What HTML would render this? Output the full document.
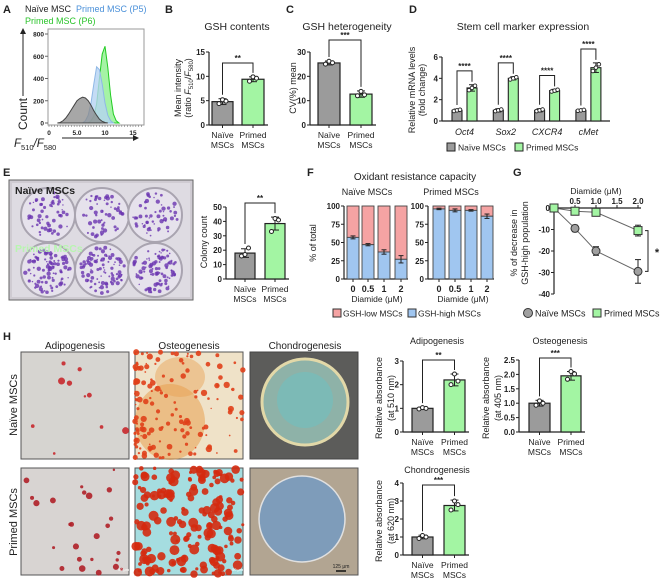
<!DOCTYPE html>
<html><head><meta charset="utf-8">
<style>
html,body{margin:0;padding:0;background:#fff;}
svg{display:block;font-family:"Liberation Sans",Arial,sans-serif;}
text{fill:#222;}
</style></head>
<body>
<svg id="fig" width="660" height="579" viewBox="0 0 660 579" xmlns="http://www.w3.org/2000/svg">
<rect x="0" y="0" width="660" height="579" fill="#fff"/>
</svg>
<script>
// ---------- data ----------
const aGrayStart = 1.5;
const aGrayCounts = [0,5,20,45,80,120,160,200,220,232,225,200,160,110,70,35,15,5,0];
const aBlueStart = 6;
const aBlueCounts = [0,20,70,180,350,505,480,350,180,70,20,0];
const aGreenStart = 7;
const aGreenCounts = [0,20,60,170,400,620,690,500,250,80,20,0];
const aYTicks = [0,200,400,600,800];
const aXTicks = [0,5,10,15];
const aXTickLabels = ['0','5.0','10','15'];
const bValues = [4.8, 9.4];
const bErr = [0.6, 0.5];
const bPts = [[4.4,5.2,4.9],[9.0,9.9,9.6]];
const bTicks = [0,5,10,15];
const cValues = [25.5, 12.7];
const cErr = [0.8, 1.3];
const cPts = [[25.0,26.2,25.6],[12.0,13.8,12.4]];
const cTicks = [0,10,20,30];
const dGenes = ['Oct4','Sox2','CXCR4','cMet'];
const dNaive = [1.0, 1.0, 1.0, 1.0];
const dNaiveErr = [0.12, 0.15, 0.15, 0.08];
const dPrimed = [3.1, 4.0, 2.85, 5.0];
const dPrimedErr = [0.3, 0.15, 0.12, 0.45];
const dTicks = [0,2,4,6];
const eValues = [18, 38.5];
const eErr = [3, 4.5];
const ePts = [[16,17,21.5],[33,42,41]];
const eTicks = [0,10,20,30,40,50];
const fDoses = ['0','0.5','1','2'];
const fNaiveHigh = [57, 47, 37, 27];
const fNaiveErr = [2, 1.5, 3, 5];
const fPrimedHigh = [96, 94, 94, 86];
const fPrimedErr = [1, 2, 1, 3];
const fTicks = [0,25,50,75,100];
const gDoses = [0, 0.5, 1.0, 2.0];
const gNaive = [0, -9.5, -20, -29.5];
const gNaiveErr = [0, 1.5, 2, 5.5];
const gPrimed = [0, -1.5, -2, -10.5];
const gPrimedErr = [0, 0.5, 0.8, 2.5];
const gYTicks = [0,-10,-20,-30,-40];
const gXTicks = [0.5,1.0,1.5,2.0];
const hAdipo = [1.0, 2.2];
const hAdipoErr = [0.05, 0.25];
const hAdipoPts = [[0.97,1.03,1.0],[2.0,2.45,2.15]];
const hOsteo = [1.0, 1.95];
const hOsteoErr = [0.1, 0.15];
const hOsteoPts = [[0.93,1.08,1.0],[1.83,2.1,2.02]];
const hChondro = [1.0, 2.75];
const hChondroErr = [0.1, 0.3];
const hChondroPts = [[0.92,1.08,1.0],[2.5,3.0,2.8]];

// ---------- helpers ----------
const svg = document.getElementById('fig');
const NS = 'http://www.w3.org/2000/svg';
function mk(tag, attrs, parent){const e=document.createElementNS(NS,tag);for(const k in attrs)e.setAttribute(k,attrs[k]);(parent||svg).appendChild(e);return e;}
function txt(x,y,s,attrs,parent){const t=mk('text',Object.assign({x:x,y:y},attrs||{}),parent);t.textContent=s;return t;}
function grp(name){const g=mk('g',{});return g;}
const NAIVE='#9b9b9b', PRIMED='#a3f5a3';
let seed=12345;
function rnd(){seed=(seed*1103515245+12345)%2147483648;return seed/2147483648;}

function yAxis(g, ax, y0, ys, ticks, dec, fs){
  mk('line',{x1:ax,y1:y0,x2:ax,y2:ys(ticks[ticks.length-1]),stroke:'#222','stroke-width':1.2},g);
  ticks.forEach(t=>{
    const y=ys(t);
    mk('line',{x1:ax-3,y1:y,x2:ax,y2:y,stroke:'#222','stroke-width':1},g);
    const lb=txt(ax-4,y+3,t.toFixed(dec),{'font-size':fs||8,'font-weight':'bold','text-anchor':'end'},g);
    
    
  });
}
function errBar(g,cx,yA,yB,w){
  mk('line',{x1:cx,y1:yA,x2:cx,y2:yB,stroke:'#222','stroke-width':1},g);
  mk('line',{x1:cx-w,y1:yA,x2:cx+w,y2:yA,stroke:'#222','stroke-width':1},g);
  mk('line',{x1:cx-w,y1:yB,x2:cx+w,y2:yB,stroke:'#222','stroke-width':1},g);
}
function vtitle(g,x,y,s,fs){return txt(x,y,s,{'font-size':fs||9,'text-anchor':'middle',transform:'rotate(-90 '+x+' '+y+')'},g);}

function barPair(name, ax, y0, y1, vmax, ticks, dec, bx, vals, errs, pts, bracketTop, stars, xEnd){
  const g=grp(name);
  const ys=v=>y0-(v/vmax)*(y0-y1);
  yAxis(g,ax,y0,ys,ticks,dec);
  mk('line',{x1:ax,y1:y0,x2:xEnd,y2:y0,stroke:'#222','stroke-width':1.2},g);
  const labs=[['Naïve','MSCs'],['Primed','MSCs']];
  vals.forEach((v,i)=>{
    const [x0,x1]=bx[i];const cx=(x0+x1)/2;
    const r=mk('rect',{x:x0,y:ys(v),width:x1-x0,height:y0-ys(v),fill:i?PRIMED:NAIVE,stroke:'#222','stroke-width':1.2},g);
    
    
    errBar(g,cx,ys(v-errs[i]),ys(v+errs[i]),4);
    pts[i].forEach((p,j)=>{mk('circle',{cx:cx+(j-1)*3.5,cy:ys(p),r:2,fill:'#fff',stroke:'#222','stroke-width':1},g);});
    mk('line',{x1:cx,y1:y0,x2:cx,y2:y0+3,stroke:'#222'},g);
    txt(cx,y0+13,labs[i][0],{'font-size':8.5,'text-anchor':'middle'},g);
    txt(cx,y0+23,labs[i][1],{'font-size':8.5,'text-anchor':'middle'},g);
  });
  const c0=(bx[0][0]+bx[0][1])/2, c1=(bx[1][0]+bx[1][1])/2;
  const top0=Math.min(...pts[0].map(ys),ys(vals[0]+errs[0]))-4, top1=Math.min(...pts[1].map(ys),ys(vals[1]+errs[1]))-4;
  const br=mk('path',{d:`M${c0} ${top0} V${bracketTop} H${c1} V${top1}`,fill:'none',stroke:'#222','stroke-width':1},g);
  
  
  txt((c0+c1)/2,bracketTop-2,stars,{'font-size':8,'font-weight':'bold','text-anchor':'middle'},g);
  return g;
}

// ---------- panel letters ----------
[['A',3,13],['B',165,13],['C',286,13],['D',409,13],['E',3,176],['F',307,176],['G',513,176],['H',3,340]].forEach(([l,x,y])=>{
  const t=txt(x,y,l,{'font-size':11,'font-weight':'bold'});
  
  
});

// ---------- A ----------
(function(){
  const g=grp('panel-a-histogram');
  txt(25,12,'Naïve MSC',{'font-size':9},g);
  const t2=txt(76,12,'Primed MSC (P5)',{'font-size':9},g);
  t2.style.fill='#4a90d9';
  const t3=txt(25,24,'Primed MSC (P6)',{'font-size':9},g);
  t3.style.fill='#2bc42b';
  mk('rect',{x:48,y:29,width:96,height:96,fill:'#fff',stroke:'#999','stroke-width':1},g);
  const xs=v=>49+v*5.6, ys=c=>123-c*(89/800);
  function hist(start,counts,fill,stroke,op,name){
    let d=`M${xs(start)} ${ys(0)}`;
    counts.forEach((c,i)=>{d+=` L${xs(start+i*0.5)} ${ys(c)}`;});
    d+=` L${xs(start+(counts.length-1)*0.5)} ${ys(0)} Z`;
    const p=mk('path',{d:d,fill:fill,'fill-opacity':op,stroke:stroke,'stroke-width':1},g);
    
    
  }
  hist(aGreenStart,aGreenCounts,'#8ef08e','#22cc22',0.8,'histogram-primed-p6');
  hist(aBlueStart,aBlueCounts,'#b5d3f3','#8fb8e6',0.8,'histogram-primed-p5');
  hist(aGrayStart,aGrayCounts,'#8a8a8a','#444',0.75,'histogram-naive');
  aYTicks.forEach(t=>{mk('line',{x1:45,y1:ys(t),x2:48,y2:ys(t),stroke:'#666'},g);txt(44,ys(t)+2.5,String(t),{'font-size':6.5,'font-weight':'bold','text-anchor':'end'},g);});
  for(let v=0;v<=16.5;v+=0.5){mk('line',{x1:xs(v),y1:125,x2:xs(v),y2:127,stroke:'#777','stroke-width':0.6},g);}
  aXTicks.forEach((t,i)=>{txt(xs(t),135,aXTickLabels[i],{'font-size':6.5,'font-weight':'bold','text-anchor':'middle'},g);});
  mk('line',{x1:23,y1:96,x2:23,y2:33,stroke:'#222','stroke-width':1},g);
  mk('path',{d:'M20 34 L23 28 L26 34 Z',fill:'#222'},g);
  vtitle(g,27,114,'Count',12);
  const f=txt(14,147,'',{'font-size':11.5,'font-style':'italic'},g);
  f.innerHTML='<tspan>F</tspan><tspan font-size="7.5" dy="3" font-style="normal">510</tspan><tspan dy="-3">/F</tspan><tspan font-size="7.5" dy="3" font-style="normal">580</tspan>';
  mk('line',{x1:62,y1:138,x2:134,y2:138,stroke:'#222','stroke-width':1},g);
  mk('path',{d:'M133 135 L139 138 L133 141 Z',fill:'#222'},g);
})();

// ---------- B ----------
(function(){
  const g=barPair('panel-b-gsh-contents',209,125,52,15,bTicks,0,[[212,233],[242,264]],bValues,bErr,bPts,63,'**',268);
  txt(237,30,'GSH contents',{'font-size':10.5,'text-anchor':'middle'},g);
  vtitle(g,181,88,'Mean intensity',9);
  const t=vtitle(g,191,88,'',9);
  t.innerHTML='(ratio <tspan font-style="italic">F</tspan><tspan font-size="6" dy="2">510</tspan><tspan dy="-2">/</tspan><tspan font-style="italic">F</tspan><tspan font-size="6" dy="2">580</tspan><tspan dy="-2">)</tspan>';
})();

// ---------- C ----------
(function(){
  const g=barPair('panel-c-gsh-heterogeneity',310,125,52,30,cTicks,0,[[318,340],[350,372]],cValues,cErr,cPts,40,'***',376);
  txt(347,30,'GSH heterogeneity',{'font-size':10.5,'text-anchor':'middle'},g);
  vtitle(g,296,88,'CV(%) mean',9);
})();

// ---------- D ----------
(function(){
  const g=grp('panel-d-stem-markers');
  const ax=442,y0=121,y1=57,vmax=6;
  const ys=v=>y0-(v/vmax)*(y0-y1);
  yAxis(g,ax,y0,ys,dTicks,0);
  mk('line',{x1:ax,y1:y0,x2:610,y2:y0,stroke:'#222','stroke-width':1.2},g);
  txt(523,30,'Stem cell marker expression',{'font-size':10.5,'text-anchor':'middle'},g);
  vtitle(g,415,90,'Relative mRNA levels',9);
  vtitle(g,425,90,'(fold change)',9);
  const gx0=452, gstep=41.3, bw=10, gap=15;
  dGenes.forEach((gene,i)=>{
    const xn=gx0+i*gstep, xp=xn+gap;
    const rn=mk('rect',{x:xn,y:ys(dNaive[i]),width:bw,height:y0-ys(dNaive[i]),fill:NAIVE,stroke:'#222','stroke-width':1.1},g);
    
    
    const rp=mk('rect',{x:xp,y:ys(dPrimed[i]),width:bw,height:y0-ys(dPrimed[i]),fill:PRIMED,stroke:'#222','stroke-width':1.1},g);
    
    
    errBar(g,xn+bw/2,ys(dNaive[i]-dNaiveErr[i]),ys(dNaive[i]+dNaiveErr[i]),3);
    errBar(g,xp+bw/2,ys(dPrimed[i]-dPrimedErr[i]),ys(dPrimed[i]+dPrimedErr[i]),3);
    [-1,0,1].forEach(k=>{
      mk('circle',{cx:xn+bw/2+k*3,cy:ys(dNaive[i]+k*dNaiveErr[i]*0.5),r:1.8,fill:'#fff',stroke:'#222','stroke-width':0.9},g);
      mk('circle',{cx:xp+bw/2+k*3,cy:ys(dPrimed[i]+k*dPrimedErr[i]*0.7),r:1.8,fill:'#fff',stroke:'#222','stroke-width':0.9},g);
    });
    const top=ys(dPrimed[i]+dPrimedErr[i]+1.3);
    mk('path',{d:`M${xn+bw/2} ${ys(dNaive[i]+dNaiveErr[i])-4} V${top} H${xp+bw/2} V${ys(dPrimed[i]+dPrimedErr[i])-3}`,fill:'none',stroke:'#222','stroke-width':1},g);
    txt(xn+bw/2+gap/2,top-2,'****',{'font-size':8,'font-weight':'bold','text-anchor':'middle'},g);
    txt(xn+bw/2+gap/2,135,gene,{'font-size':9,'font-style':'italic','text-anchor':'middle'},g);
  });
  const l1=mk('rect',{x:447,y:143,width:8,height:8,fill:NAIVE,stroke:'#222'},g);
  
  
  txt(458,150.5,'Naïve MSCs',{'font-size':8.5},g);
  const l2=mk('rect',{x:515,y:143,width:8,height:8,fill:PRIMED,stroke:'#222'},g);
  
  
  txt(526,150.5,'Primed MSCs',{'font-size':8.5},g);
})();

// ---------- E plate ----------
(function(){
  const g=grp('panel-e-plate-photo');
  mk('rect',{x:9,y:180,width:184,height:120,fill:'#cfcbd2',stroke:'#666','stroke-width':1},g);
  mk('rect',{x:12,y:183,width:178,height:114,fill:'#dedbe2'},g);
  const cs=[[48,215],[102,215],[155,215],[48,270],[102,270],[155,270]];
  cs.forEach(([cx,cy],i)=>{
    mk('circle',{cx:cx,cy:cy,r:27,fill:'#e6e2ec',stroke:'#a9a4b0','stroke-width':2},g);
    const n=i<3?55:90;
    for(let k=0;k<n;k++){const a=rnd()*6.283,r=Math.sqrt(rnd())*23;mk('circle',{cx:cx+r*Math.cos(a),cy:cy+r*Math.sin(a),r:0.7+rnd()*1.5,fill:'#6a35b0','fill-opacity':0.8},g);}
  });
  txt(15,194,'Naïve MSCs',{'font-size':10.5,'font-weight':'bold'},g);
  const p=txt(15,252,'Primed MSCs',{'font-size':10.5,'font-weight':'bold'},g);p.style.fill='#b8f5b0';
})();
(function(){
  const g=barPair('panel-e-colony-count',226,279,207,50,eTicks,0,[[235,255],[265,285]],eValues,eErr,ePts,203,'**',289);
  vtitle(g,207,242,'Colony count',9);
})();

// ---------- F ----------
(function(){
  const g=grp('panel-f-oxidant-resistance');
  txt(415,180,'Oxidant resistance capacity',{'font-size':10,'text-anchor':'middle'},g);
  vtitle(g,316,243,'% of total',9);
  function stack(ax,bx,high,err,sub,name){
    const y0=279,y1=206;const ys=v=>y0-(v/100)*(y0-y1);
    const sg=grp(name);g.appendChild(sg);
    txt(ax+23,195,sub,{'font-size':9,'text-anchor':'middle'},sg);
    yAxis(sg,ax,y0,ys,fTicks,0);
    mk('line',{x1:ax,y1:y0,x2:bx[3]+13,y2:y0,stroke:'#222','stroke-width':1.2},sg);
    high.forEach((h,i)=>{
      const x=bx[i];
      const rl=mk('rect',{x:x,y:ys(100),width:12,height:ys(h)-ys(100),fill:'#f5a3a3',stroke:'#444','stroke-width':0.9},sg);
      
      
      const rh=mk('rect',{x:x,y:ys(h),width:12,height:y0-ys(h),fill:'#a0c6f0',stroke:'#444','stroke-width':0.9},sg);
      
      
      errBar(sg,x+6,ys(h-err[i]),ys(h+err[i]),2.5);
      mk('line',{x1:x+6,y1:y0,x2:x+6,y2:y0+3,stroke:'#222'},sg);
      txt(x+6,292,fDoses[i],{'font-size':9,'font-weight':'bold','text-anchor':'middle'},sg);
    });
    txt((bx[0]+bx[3]+12)/2,302,'Diamide (μM)',{'font-size':8.5,'text-anchor':'middle'},sg);
  }
  stack(344,[347,362,378,395],fNaiveHigh,fNaiveErr,'Naïve MSCs','f-naive-chart');
  stack(428,[433,449,465,481],fPrimedHigh,fPrimedErr,'Primed MSCs','f-primed-chart');
  const l1=mk('rect',{x:333,y:309,width:8,height:8,fill:'#f5a3a3',stroke:'#333'},g);
  
  
  txt(343,316.5,'GSH-low MSCs',{'font-size':8.5},g);
  const l2=mk('rect',{x:408,y:309,width:8,height:8,fill:'#a0c6f0',stroke:'#333'},g);
  
  
  txt(418,316.5,'GSH-high MSCs',{'font-size':8.5},g);
})();

// ---------- G ----------
(function(){
  const g=grp('panel-g-decrease');
  const ax=554, ay=208;
  const xs=v=>ax+v*42, ys=v=>ay-v*(86/40);
  txt(596,194,'Diamide (μM)',{'font-size':8.5,'text-anchor':'middle'},g);
  mk('line',{x1:ax,y1:ay,x2:641,y2:ay,stroke:'#222','stroke-width':1.2},g);
  mk('line',{x1:ax,y1:ay,x2:ax,y2:ys(-40),stroke:'#222','stroke-width':1.2},g);
  gXTicks.forEach(t=>{mk('line',{x1:xs(t),y1:ay,x2:xs(t),y2:ay-3,stroke:'#222'},g);txt(xs(t),204,t.toFixed(1),{'font-size':8,'font-weight':'bold','text-anchor':'middle'},g);});
  gYTicks.forEach(t=>{mk('line',{x1:ax-3,y1:ys(t),x2:ax,y2:ys(t),stroke:'#222'},g);txt(ax-4,ys(t)+3,String(t),{'font-size':8,'font-weight':'bold','text-anchor':'end'},g);});
  vtitle(g,517,243,'% of decrease in',9);
  vtitle(g,528,243,'GSH-high population',9);
  function series(vals,errs,color,shape,name){
    const sg=grp(name);g.appendChild(sg);
    mk('polyline',{points:gDoses.map((d,i)=>xs(d)+','+ys(vals[i])).join(' '),fill:'none',stroke:'#666','stroke-width':1},sg);
    gDoses.forEach((d,i)=>{
      if(errs[i]>0) errBar(sg,xs(d),ys(vals[i]-errs[i]),ys(vals[i]+errs[i]),3);
      let m;
      if(shape==='c') m=mk('circle',{cx:xs(d),cy:ys(vals[i]),r:4,fill:color,stroke:'#333','stroke-width':1},sg);
      else m=mk('rect',{x:xs(d)-4,y:ys(vals[i])-4,width:8,height:8,fill:color,stroke:'#333','stroke-width':1},sg);
      
      
    });
  }
  series(gNaive,gNaiveErr,'#a0a0a0','c','g-naive-series');
  series(gPrimed,gPrimedErr,PRIMED,'s','g-primed-series');
  const bx=648, yA=ys(gPrimed[3]), yB=ys(gNaive[3]);
  mk('path',{d:`M${bx-3} ${yA} H${bx} V${yB} H${bx-3}`,fill:'none',stroke:'#222','stroke-width':1},g);
  txt(657,(yA+yB)/2+5,'*',{'font-size':11,'font-weight':'bold','text-anchor':'middle'},g);
  const l1=mk('circle',{cx:528,cy:313,r:4.5,fill:'#a0a0a0',stroke:'#333'},g);
  
  
  txt(535,316.5,'Naïve MSCs',{'font-size':9},g);
  const l2=mk('rect',{x:593,y:309,width:8,height:8,fill:PRIMED,stroke:'#333'},g);
  
  
  txt(604,316.5,'Primed MSCs',{'font-size':9},g);
})();

// ---------- H images ----------
(function(){
  const g=grp('panel-h-images');
  [['Adipogenesis',75],['Osteogenesis',189],['Chondrogenesis',305]].forEach(([s,x])=>txt(x,349,s,{'font-size':10,'text-anchor':'middle'},g));
  vtitle(g,17,405,'Naïve MSCs',11);
  vtitle(g,17,522,'Primed  MSCs',11);
  const cols=[21,135,250], rows=[352,468], W=108, H=107;
  function blobs(x,y,n,color,rmin,rmax,bias){
    for(let k=0;k<n;k++){let px=rnd(),py=rnd();if(bias)px=px*px;mk('circle',{cx:x+px*W,cy:y+py*H,r:rmin+rnd()*(rmax-rmin),fill:color,'fill-opacity':0.9},g);}
  }
  mk('rect',{x:cols[0],y:rows[0],width:W,height:H,fill:'#d6d4d0',stroke:'#555'},g);
  blobs(cols[0],rows[0],10,'#c8282c',1,3.5);
  mk('rect',{x:cols[1],y:rows[0],width:W,height:H,fill:'#efe2c8',stroke:'#555'},g);
  mk('ellipse',{cx:cols[1]+35,cy:rows[0]+70,rx:35,ry:38,fill:'#e8a050','fill-opacity':0.55},g);
  mk('ellipse',{cx:cols[1]+45,cy:rows[0]+25,rx:25,ry:20,fill:'#e8a050','fill-opacity':0.45},g);
  blobs(cols[1],rows[0],150,'#e0401a',0.7,3.2,true);
  mk('rect',{x:cols[2],y:rows[0],width:W,height:H,fill:'#5c5c5a',stroke:'#444'},g);
  mk('circle',{cx:305,cy:402,r:43,fill:'#8eb2a8',stroke:'#e2d8a8','stroke-width':3},g);
  mk('circle',{cx:305,cy:400,r:28,fill:'#6fc0c0','fill-opacity':0.6},g);
  mk('rect',{x:cols[0],y:rows[1],width:W,height:H,fill:'#d8d4d2',stroke:'#555'},g);
  blobs(cols[0],rows[1],25,'#b02028',1,3.5);
  mk('rect',{x:cols[1],y:rows[1],width:W,height:H,fill:'#a5dde0',stroke:'#555'},g);
  blobs(cols[1],rows[1],170,'#d42a10',1.5,5);
  mk('rect',{x:cols[2],y:rows[1],width:W,height:H,fill:'#b2a592',stroke:'#555'},g);
  mk('circle',{cx:302,cy:519,r:43,fill:'#7e9cba',stroke:'#e0e0e0','stroke-width':1.5},g);
  const s1=txt(118,571,'50 μm',{'font-size':4},g);s1.style.fill='#fff';
  const s2=txt(232,571,'50 μm',{'font-size':4},g);s2.style.fill='#fff';
  txt(341,568,'125 μm',{'font-size':5,'text-anchor':'middle'},g);
  mk('line',{x1:336,y1:571,x2:346,y2:571,stroke:'#111','stroke-width':1.5},g);
})();

// ---------- H charts ----------
(function(){
  const g1=barPair('panel-h-adipogenesis-chart',403,432,361,3,[0,1,2,3],0,[[412,433],[444,465]],hAdipo,hAdipoErr,hAdipoPts,360,'**',469);
  txt(437,344,'Adipogenesis',{'font-size':9,'text-anchor':'middle'},g1);
  vtitle(g1,382,398,'Relative absorbance',9);
  vtitle(g1,394,398,'(at 510 nm)',9);
  const g2=barPair('panel-h-osteogenesis-chart',519,432,360,2.5,[0,0.5,1,1.5,2,2.5],1,[[529,550],[561,581]],hOsteo,hOsteoErr,hOsteoPts,358,'***',585);
  txt(560,344,'Osteogenesis',{'font-size':9,'text-anchor':'middle'},g2);
  vtitle(g2,489,398,'Relative absorbance',9);
  vtitle(g2,501,398,'(at 405 nm)',9);
  const g3=barPair('panel-h-chondrogenesis-chart',403,555,483,4,[0,1,2,3,4],0,[[412,433],[444,465]],hChondro,hChondroErr,hChondroPts,485,'***',469);
  txt(437,473,'Chondrogenesis',{'font-size':9,'text-anchor':'middle'},g3);
  vtitle(g3,382,521,'Relative absorbance',9);
  vtitle(g3,394,521,'(at 620 nm)',9);
})();
</script>
</body></html>
